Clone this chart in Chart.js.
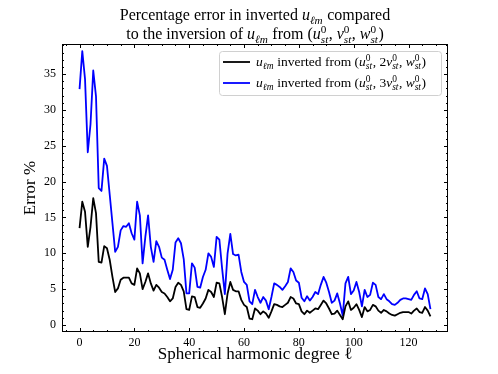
<!DOCTYPE html>
<html>
<head>
<meta charset="utf-8">
<script src="https://cdn.jsdelivr.net/npm/chart.js@4.4.1/dist/chart.umd.min.js"></script>
<style>
    html, body { margin: 0; padding: 0; background: #fff; }
    #wrap { width: 498px; height: 374px; position: relative; }
</style>
</head>
<body>
<div id="wrap"><canvas id="errChart"></canvas></div>
<script>
const SERIF = "'Liberation Serif', 'DejaVu Serif', serif";

// spherical harmonic degree 0..128
const degrees = [];
for (let l = 0; l <= 128; l++) degrees.push(l);

// error % for u inverted from (u, 2v, w)
const err2v = [
    13.5, 17.2, 15.8, 10.9, 13.7, 17.7, 15.6, 8.8, 8.7, 11.0,
    10.7, 9.1, 6.7, 4.6, 5.1, 6.3, 6.6, 6.6, 6.6, 5.8,
    5.6, 7.9, 7.2, 5.0, 6.0, 7.2, 5.8, 4.8, 5.6, 5.2,
    4.6, 4.4, 3.9, 3.3, 3.7, 5.3, 5.9, 5.6, 4.7, 2.2,
    2.1, 4.0, 3.9, 2.5, 2.4, 3.0, 3.7, 4.9, 4.6, 3.9,
    5.9, 5.8, 3.9, 1.5, 4.4, 6.0, 4.9, 4.7, 4.7, 3.5,
    2.8, 2.5, 0.9, 0.8, 2.3, 2.0, 1.5, 1.9, 1.6, 1.0,
    1.9, 2.9, 2.8, 2.6, 2.5, 2.8, 3.1, 3.9, 3.7, 3.0,
    2.9, 1.9, 1.5, 2.0, 1.7, 2.0, 2.3, 2.2, 2.8, 3.4,
    3.0, 2.3, 1.5, 1.6, 2.0, 1.4, 0.8, 2.6, 3.3, 2.1,
    2.4, 2.9, 2.1, 1.1, 2.5, 1.9, 2.1, 2.8, 2.6, 2.0,
    1.7, 2.1, 1.9, 1.6, 1.4, 1.3, 1.5, 1.7, 1.8, 1.8,
    1.8, 1.6, 2.0, 2.3, 1.8, 1.7, 2.5, 2.0, 1.2
];

// error % for u inverted from (u, 3v, w)
const err3v = [
    32.9, 38.2, 34.3, 24.1, 28.0, 35.5, 31.9, 19.1, 18.7, 23.2,
    22.2, 18.2, 14.2, 10.2, 10.9, 13.2, 13.8, 13.7, 14.2, 12.8,
    11.9, 17.2, 15.3, 8.6, 12.3, 15.3, 10.9, 8.8, 11.7, 10.9,
    9.4, 9.1, 7.7, 6.4, 7.7, 11.5, 12.1, 11.4, 9.2, 4.4,
    4.4, 8.6, 8.0, 5.3, 5.2, 6.7, 7.7, 10.0, 9.5, 8.1,
    12.3, 11.9, 7.9, 4.3, 10.0, 12.7, 9.9, 9.7, 9.8, 7.4,
    6.0, 5.6, 3.3, 2.9, 4.9, 3.9, 3.1, 3.9, 3.4, 2.2,
    3.9, 5.8, 5.6, 5.3, 4.9, 5.4, 6.0, 7.9, 7.4, 6.2,
    5.9, 3.8, 3.3, 4.0, 3.4, 3.9, 4.6, 4.3, 5.6, 6.7,
    5.9, 4.6, 3.1, 3.4, 4.4, 3.0, 1.3, 5.8, 6.7, 4.3,
    4.8, 6.0, 4.6, 2.6, 4.9, 3.9, 4.2, 5.9, 5.6, 3.9,
    3.6, 4.3, 3.6, 3.3, 2.9, 2.8, 3.1, 3.5, 3.7, 3.7,
    3.6, 3.5, 4.2, 4.7, 3.7, 3.6, 5.1, 4.3, 2.2
];

const xMajorTicks = [0, 20, 40, 60, 80, 100, 120];
const yMajorTicks = [0, 5, 10, 15, 20, 25, 30, 35];

// rich text runs: {t} roman, {t, it} italic, {sub}, {sup, sub} stacked
const titleLine1 = [{t: "Percentage error in inverted "}, {t: "u", it: true}, {sub: "ℓm"}, {t: " compared"}];
const titleLine2 = [
    {t: "to the inversion of "}, {t: "u", it: true}, {sub: "ℓm"}, {t: " from ("},
    {t: "u", it: true}, {sup: "0", sub: "st"}, {t: ", "},
    {t: "v", it: true}, {sup: "0", sub: "st"}, {t: ", "},
    {t: "w", it: true}, {sup: "0", sub: "st"}, {t: ")"}
];

/**
 * legend label for one dataset
 * @param factor multiplier in front of v
 */
function legendRuns(factor) {
    return [
        {t: "u", it: true}, {sub: "ℓm"}, {t: " inverted from ("},
        {t: "u", it: true}, {sup: "0", sub: "st"}, {t: ", " + factor},
        {t: "v", it: true}, {sup: "0", sub: "st"}, {t: ", "},
        {t: "w", it: true}, {sup: "0", sub: "st"}, {t: ")"}
    ];
}

function fontFor(size, italic) {
    return (italic ? "italic " : "") + size + "px " + SERIF;
}

function runWidth(ctx, r, size) {
    const small = size * 0.7;
    if (r.sub !== undefined || r.sup !== undefined) {
        let w = 0;
        if (r.sup) {
            ctx.font = fontFor(small, false);
            w = Math.max(w, ctx.measureText(r.sup).width);
        }
        if (r.sub) {
            ctx.font = fontFor(small, true);
            w = Math.max(w, ctx.measureText(r.sub).width);
        }
        return w + 0.5;
    }
    ctx.font = fontFor(size, r.it);
    return ctx.measureText(r.t).width;
}

/**
 * draw a list of runs on the canvas, y is the baseline
 */
function drawRuns(ctx, runs, x, y, size, align) {
    let total = 0;
    runs.forEach(r => { total += runWidth(ctx, r, size); });
    let cx = align === "center" ? x - total / 2 : x;
    const small = size * 0.7;
    ctx.textAlign = "left";
    ctx.textBaseline = "alphabetic";
    ctx.fillStyle = "#000";
    runs.forEach(r => {
        const w = runWidth(ctx, r, size);
        if (r.sub !== undefined || r.sup !== undefined) {
            if (r.sup) {
                ctx.font = fontFor(small, false);
                ctx.fillText(r.sup, cx, y - size * 0.4);
            }
            if (r.sub) {
                ctx.font = fontFor(small, true);
                ctx.fillText(r.sub, cx, y + size * 0.22);
            }
        } else {
            ctx.font = fontFor(size, r.it);
            ctx.fillText(r.t, cx, y);
        }
        cx += w;
    });
}

/**
 * frame, inward ticks on all sides, title and legend
 */
const decorations = {
    id: "decorations",
    afterDraw(chart) {
        const {ctx, chartArea: a, scales} = chart;
        ctx.save();
        ctx.strokeStyle = "#000";
        ctx.lineWidth = 1;

        const seg = (x1, y1, x2, y2) => {
            ctx.beginPath();
            ctx.moveTo(x1, y1);
            ctx.lineTo(x2, y2);
            ctx.stroke();
        };
        const xTick = (v, len) => {
            const px = Math.round(scales.x.getPixelForValue(v)) + 0.5;
            seg(px, a.bottom, px, a.bottom - len);
            seg(px, a.top, px, a.top + len);
        };
        const yTick = (v, len) => {
            const py = Math.round(scales.y.getPixelForValue(v)) + 0.5;
            seg(a.left, py, a.left + len, py);
            seg(a.right, py, a.right - len, py);
        };

        for (let v = -5; v <= 130; v += 5) {
            if (!xMajorTicks.includes(v)) xTick(v, 2);
        }
        xMajorTicks.forEach(v => xTick(v, 4));
        for (let v = 0; v <= 39; v++) {
            if (!yMajorTicks.includes(v)) yTick(v, 2);
        }
        yMajorTicks.forEach(v => yTick(v, 4));

        ctx.strokeRect(a.left + 0.5, a.top + 0.5, a.right - a.left - 1, a.bottom - a.top - 1);

        // title
        const mid = (a.left + a.right) / 2;
        drawRuns(ctx, titleLine1, mid, 20, 16, "center");
        drawRuns(ctx, titleLine2, mid, 39, 16, "center");

        // legend
        const bx = 219, by = 51, bw = 222, bh = 44;
        ctx.beginPath();
        ctx.roundRect(bx + 0.5, by + 0.5, bw, bh, 3);
        ctx.fillStyle = "rgba(255,255,255,0.8)";
        ctx.fill();
        ctx.strokeStyle = "#d0d0d0";
        ctx.stroke();

        chart.data.datasets.forEach((ds, i) => {
            const ly = 62 + i * 21;
            ctx.strokeStyle = ds.borderColor;
            ctx.lineWidth = 1.8;
            seg(223, ly, 250, ly);
            drawRuns(ctx, ds.richLabel, 256, ly + 4, 13.5, "left");
        });
        ctx.restore();
    }
};

document.addEventListener("DOMContentLoaded", () => {
    const ctx = document.getElementById("errChart").getContext("2d");
    new Chart(ctx, {
        type: "line",
        data: {
            datasets: [
                {
                    label: "u inverted from (u, 2v, w)",
                    richLabel: legendRuns("2"),
                    data: degrees.map((l, i) => ({x: l, y: err2v[i]})),
                    borderColor: "#000000",
                    borderWidth: 1.8,
                    pointRadius: 0,
                    borderJoinStyle: "round",
                    fill: false
                },
                {
                    label: "u inverted from (u, 3v, w)",
                    richLabel: legendRuns("3"),
                    data: degrees.map((l, i) => ({x: l, y: err3v[i]})),
                    borderColor: "#0000ff",
                    borderWidth: 1.8,
                    pointRadius: 0,
                    borderJoinStyle: "round",
                    fill: false
                }
            ]
        },
        options: {
            responsive: true,
            maintainAspectRatio: false,
            animation: false,
            layout: {padding: {top: 44, right: 50, left: 0, bottom: 0}},
            plugins: {
                legend: {display: false},
                title: {display: false},
                tooltip: {enabled: false}
            },
            scales: {
                x: {
                    type: "linear",
                    min: -6.4,
                    max: 134.4,
                    grid: {display: false, drawTicks: false},
                    border: {display: false},
                    ticks: {padding: 4, color: "#000", maxRotation: 0, font: {family: SERIF, size: 12}},
                    afterBuildTicks: s => { s.ticks = xMajorTicks.map(v => ({value: v})); },
                    afterFit: s => { s.height = 42; },
                    title: {
                        display: true,
                        text: "Spherical harmonic degree ℓ",
                        color: "#000",
                        font: {family: SERIF, size: 17},
                        padding: {top: 0, bottom: 9}
                    }
                },
                y: {
                    min: -0.98,
                    max: 39.2,
                    grid: {display: false, drawTicks: false},
                    border: {display: false},
                    ticks: {padding: 6, color: "#000", font: {family: SERIF, size: 12}},
                    afterBuildTicks: s => { s.ticks = yMajorTicks.map(v => ({value: v})); },
                    afterFit: s => { s.width = 62; },
                    title: {
                        display: true,
                        text: "Error %",
                        color: "#000",
                        font: {family: SERIF, size: 17},
                        padding: {top: 20, bottom: 0}
                    }
                }
            }
        },
        plugins: [decorations]
    });
});
</script>
</body>
</html>
